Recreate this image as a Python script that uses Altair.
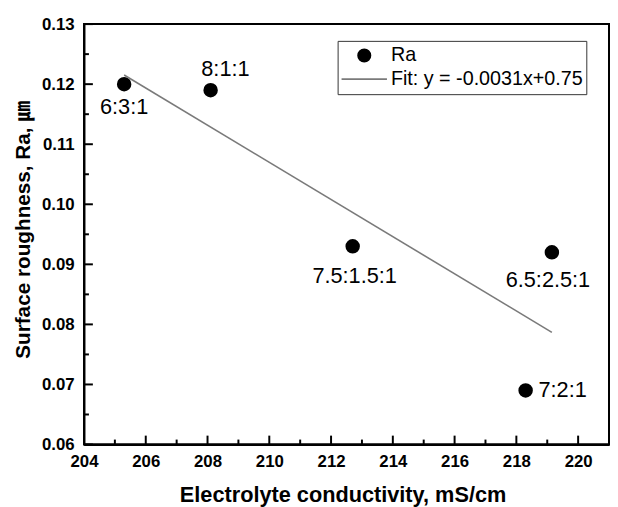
import altair as alt
import pandas as pd

# ---- data ----
conductivity = [205.3, 208.1, 212.7, 219.15, 218.3]
roughness = [0.120, 0.119, 0.093, 0.092, 0.069]
ratios = ["6:3:1", "8:1:1", "7.5:1.5:1", "6.5:2.5:1", "7:2:1"]

series_names = ["Ra", "Fit: y = -0.0031x+0.75"]

x_domain = [204, 221]
y_domain = [0.06, 0.13]
x_major = [204, 206, 208, 210, 212, 214, 216, 218, 220]
x_minor = [205, 207, 209, 211, 213, 215, 217, 219]
y_major = [0.06, 0.07, 0.08, 0.09, 0.10, 0.11, 0.12, 0.13]
y_minor = [0.065, 0.075, 0.085, 0.095, 0.105, 0.115, 0.125]

df = pd.DataFrame({"cond": conductivity, "ra": roughness, "ratio": ratios,
                   "series": ["Ra"] * len(conductivity)})

# label placement (pixel offsets from each point)
label_style = {
    "6:3:1": dict(dx=0, dy=23, align="center"),
    "8:1:1": dict(dx=15, dy=-21, align="center"),
    "7.5:1.5:1": dict(dx=2, dy=30, align="center"),
    "6.5:2.5:1": dict(dx=-4, dy=28, align="center"),
    "7:2:1": dict(dx=13, dy=0, align="left"),
}

W, H = 532, 426
FONT = "Liberation Sans"

xscale = alt.Scale(domain=x_domain, nice=False, zero=False)
yscale = alt.Scale(domain=y_domain, nice=False, zero=False)

xaxis = alt.Axis(values=x_major, title="Electrolyte conductivity, mS/cm",
                 ticks=False, domain=True, domainColor="black", domainWidth=2,
                 grid=False, labelPadding=9,
                 labelFontSize=17, labelFontWeight="bold", labelFont=FONT,
                 labelColor="black", labelFlush=False,
                 titleFontSize=22, titleFontWeight="bold", titleFont=FONT,
                 titleColor="black", titleX=262, titleY=58,
                 titleBaseline="alphabetic", titleAlign="center")
yaxis = alt.Axis(values=y_major, format=".2f",
                 title="Surface roughness, Ra, ㎛",
                 ticks=False, domain=True, domainColor="black", domainWidth=2,
                 grid=False, labelPadding=10,
                 labelFontSize=17, labelFontWeight="bold", labelFont=FONT,
                 labelColor="black", labelFlush=False,
                 titleFontSize=21, titleFontWeight="bold",
                 titleFont=FONT + ", Noto Sans CJK SC",
                 titleColor="black", titleX=-55, titleY=208,
                 titleAngle=-90, titleBaseline="alphabetic", titleAlign="center")

X = alt.X("cond:Q", scale=xscale, axis=xaxis)
Y = alt.Y("ra:Q", scale=yscale, axis=yaxis)

# plot frame drawn as four rules along the edges of the plot area
one = pd.DataFrame({"k": [0]})
frame_top = alt.Chart(one).mark_rule(color="black", strokeWidth=2).encode(
    x=alt.value(0), x2=alt.value(W), y=alt.value(0))
frame_bottom = alt.Chart(one).mark_rule(color="black", strokeWidth=2).encode(
    x=alt.value(0), x2=alt.value(W), y=alt.value(H))
frame_left = alt.Chart(one).mark_rule(color="black", strokeWidth=2).encode(
    x=alt.value(0), y=alt.value(0), y2=alt.value(H))
frame_right = alt.Chart(one).mark_rule(color="black", strokeWidth=2).encode(
    x=alt.value(W), y=alt.value(0), y2=alt.value(H))

fit = alt.Chart(df).transform_regression("cond", "ra").mark_line(
    color="#7a7a7a", strokeWidth=1.6
).encode(x=alt.X("cond:Q", scale=xscale), y=alt.Y("ra:Q", scale=yscale))

legend = alt.Legend(title=None, orient="none", legendX=257, legendY=17,
                    strokeColor="#333333", padding=3, clipHeight=23.5,
                    rowPadding=0, labelFontSize=20, labelFont=FONT,
                    labelColor="black", labelOffset=3, labelLimit=0,
                    symbolStrokeWidth=1.6)

pts = alt.Chart(df).mark_point(filled=True, opacity=1).encode(
    x=X, y=Y,
    fill=alt.Fill("series:N", scale=alt.Scale(domain=series_names, range=["black", "#7a7a7a"]), legend=legend),
    stroke=alt.Stroke("series:N", scale=alt.Scale(domain=series_names, range=["black", "#7a7a7a"]), legend=legend),
    shape=alt.Shape("series:N", scale=alt.Scale(domain=series_names, range=["circle", "stroke"]), legend=legend),
    size=alt.Size("series:N", scale=alt.Scale(domain=series_names, range=[160, 2116]), legend=legend),
)

texts = []
for lab, st in label_style.items():
    texts.append(
        alt.Chart(df).transform_filter(alt.datum.ratio == lab).mark_text(
            fontSize=22, font=FONT, color="black", baseline="middle", **st
        ).encode(x=alt.X("cond:Q", scale=xscale), y=alt.Y("ra:Q", scale=yscale), text="ratio:N")
    )

tick_df_x_major = pd.DataFrame({"v": x_major})
tick_df_x_minor = pd.DataFrame({"v": x_minor})
tick_df_y_major = pd.DataFrame({"v": y_major})
tick_df_y_minor = pd.DataFrame({"v": y_minor})

xt_major = alt.Chart(tick_df_x_major).mark_rule(color="black", strokeWidth=2).encode(
    x=alt.X("v:Q", scale=xscale), y=alt.value(H), y2=alt.value(H - 9))
xt_minor = alt.Chart(tick_df_x_minor).mark_rule(color="black", strokeWidth=2).encode(
    x=alt.X("v:Q", scale=xscale), y=alt.value(H), y2=alt.value(H - 5))
yt_major = alt.Chart(tick_df_y_major).mark_rule(color="black", strokeWidth=2).encode(
    y=alt.Y("v:Q", scale=yscale), x=alt.value(0), x2=alt.value(9))
yt_minor = alt.Chart(tick_df_y_minor).mark_rule(color="black", strokeWidth=2).encode(
    y=alt.Y("v:Q", scale=yscale), x=alt.value(0), x2=alt.value(5))

chart = alt.layer(pts, fit, *texts, xt_major, xt_minor, yt_major, yt_minor,
                  frame_top, frame_bottom, frame_left, frame_right).properties(
    width=W, height=H,
    autosize=alt.AutoSizeParams(type="none"),
    padding={"left": 77, "top": 13, "right": 1, "bottom": 60},
    background="white",
).configure_view(stroke="black", strokeWidth=2)

chart.save("out.html", embed_options={"renderer": "svg", "actions": False})
